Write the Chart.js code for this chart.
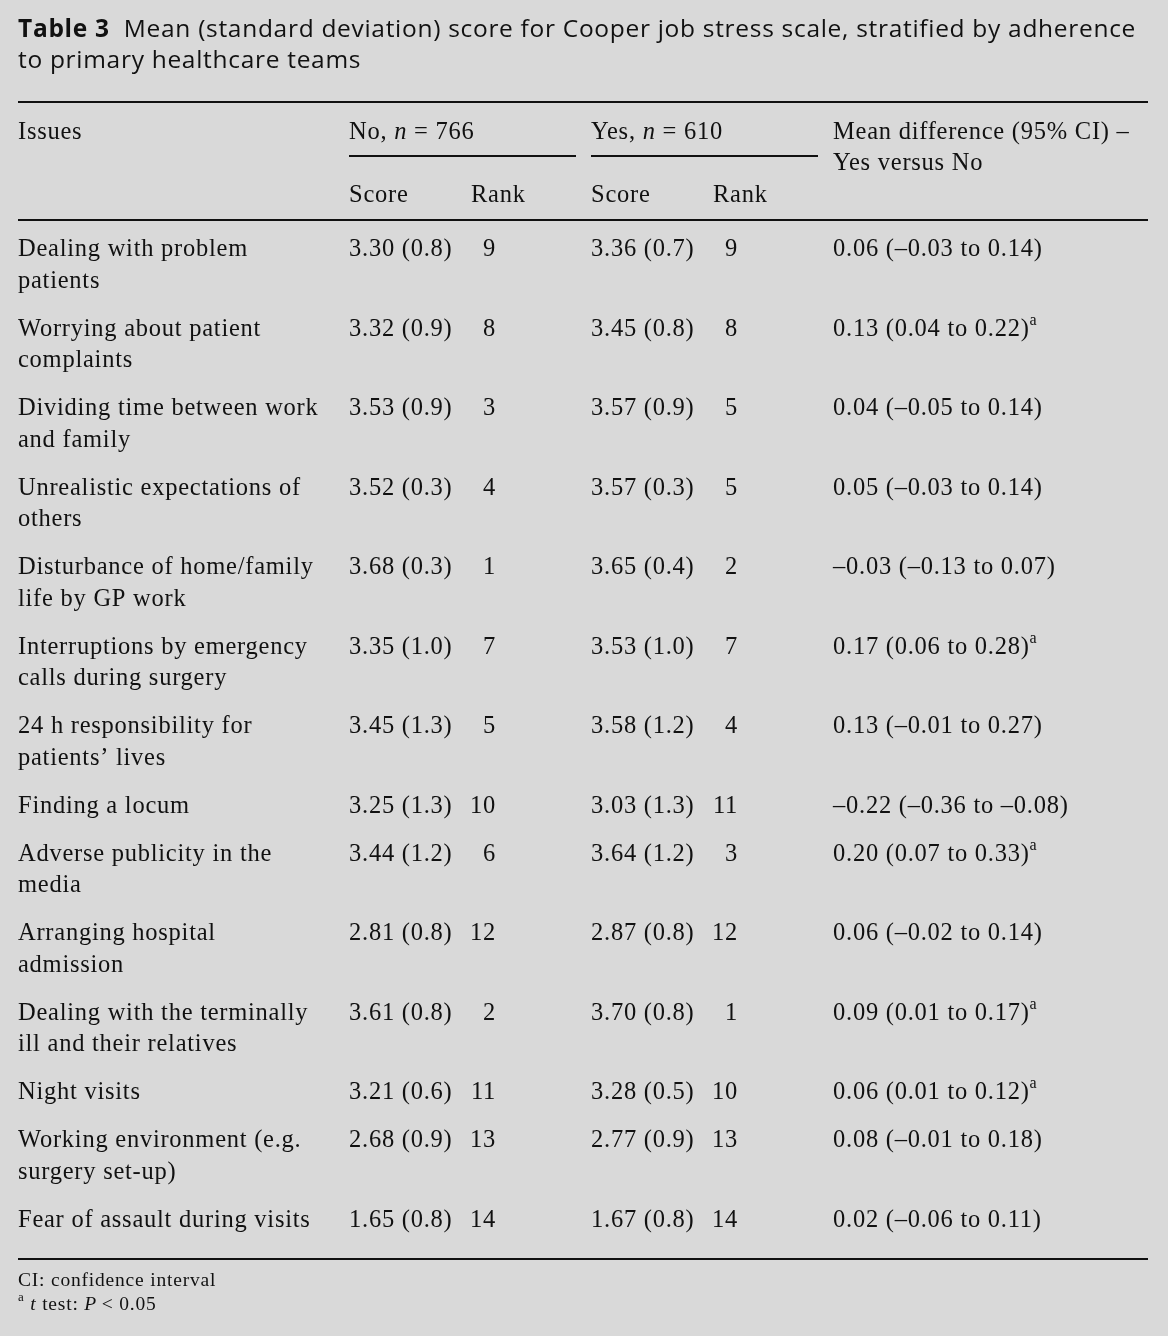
<!DOCTYPE html>
<html>
<head>
<meta charset="utf-8">
<script src="https://cdn.jsdelivr.net/npm/chart.js@4.4.1/dist/chart.umd.min.js"></script>
<style>
  html, body { margin: 0; padding: 0; background: #d9d9d9; }
  #wrap { width: 1168px; height: 1336px; position: relative; }
</style>
</head>
<body>
<div id="wrap"><canvas id="table3"></canvas></div>
<script>
const issues = [
  ["Dealing with problem", "patients"],
  ["Worrying about patient", "complaints"],
  ["Dividing time between work", "and family"],
  ["Unrealistic expectations of", "others"],
  ["Disturbance of home/family", "life by GP work"],
  ["Interruptions by emergency", "calls during surgery"],
  ["24 h responsibility for", "patients\u2019 lives"],
  ["Finding a locum"],
  ["Adverse publicity in the", "media"],
  ["Arranging hospital", "admission"],
  ["Dealing with the terminally", "ill and their relatives"],
  ["Night visits"],
  ["Working environment (e.g.", "surgery set-up)"],
  ["Fear of assault during visits"]
];
const noScore = [3.30, 3.32, 3.53, 3.52, 3.68, 3.35, 3.45, 3.25, 3.44, 2.81, 3.61, 3.21, 2.68, 1.65];
const noSd = [0.8, 0.9, 0.9, 0.3, 0.3, 1.0, 1.3, 1.3, 1.2, 0.8, 0.8, 0.6, 0.9, 0.8];
const noRank = [9, 8, 3, 4, 1, 7, 5, 10, 6, 12, 2, 11, 13, 14];
const yesScore = [3.36, 3.45, 3.57, 3.57, 3.65, 3.53, 3.58, 3.03, 3.64, 2.87, 3.70, 3.28, 2.77, 1.67];
const yesSd = [0.7, 0.8, 0.9, 0.3, 0.4, 1.0, 1.2, 1.3, 1.2, 0.8, 0.8, 0.5, 0.9, 0.8];
const yesRank = [9, 8, 5, 5, 2, 7, 4, 11, 3, 12, 1, 10, 13, 14];
const meanDiff = [0.06, 0.13, 0.04, 0.05, -0.03, 0.17, 0.13, -0.22, 0.20, 0.06, 0.09, 0.06, 0.08, 0.02];
const ciLow = [-0.03, 0.04, -0.05, -0.03, -0.13, 0.06, -0.01, -0.36, 0.07, -0.02, 0.01, 0.01, -0.01, -0.06];
const ciHigh = [0.14, 0.22, 0.14, 0.14, 0.07, 0.28, 0.27, -0.08, 0.33, 0.14, 0.17, 0.12, 0.18, 0.11];
const significant = [false, true, false, false, false, true, false, false, true, false, true, true, false, false];

const nNo = 766;
const nYes = 610;
const titleLabel = "Table 3";
const titleText = ["Mean (standard deviation) score for Cooper job stress scale, stratified by adherence",
                   "to primary healthcare teams"];

// ---- layout ----
const W = 1168, H = 1336;
const X = { left: 18, right: 1148, noScore: 349, noRank: 496, noEnd: 576,
            yesScore: 591, yesRank: 738, yesEnd: 818, diff: 833 };
const firstRow = 250, lineH = 31.5, rowGap = 16.5;
const SERIF = '"Liberation Serif", "Times New Roman", serif';
const SANS = '"Open Sans", "Noto Sans", sans-serif';
const INK = "#111";

const fmt = (v, d) => (v < 0 ? "\u2013" : "") + Math.abs(v).toFixed(d);

let yy = firstRow;
const rowY = issues.map(lines => { const r = yy; yy += lines.length * lineH + rowGap; return r; });

// each cell: array of lines, each line an array of text runs
const col = (x, align, cells) => ({
  data: rowY.map(y => ({ x, y })),
  cells, align, pointRadius: 0, showLine: false
});
const datasets = [
  col(X.left, "left", issues.map(ls => ls.map(t => [{ t }]))),
  col(X.noScore, "left", noScore.map((v, i) => [[{ t: fmt(v, 2) + " (" + fmt(noSd[i], 1) + ")" }]])),
  col(X.noRank, "right", noRank.map(v => [[{ t: String(v) }]])),
  col(X.yesScore, "left", yesScore.map((v, i) => [[{ t: fmt(v, 2) + " (" + fmt(yesSd[i], 1) + ")" }]])),
  col(X.yesRank, "right", yesRank.map(v => [[{ t: String(v) }]])),
  col(X.diff, "left", meanDiff.map((v, i) => {
    const run = [{ t: fmt(v, 2) + " (" + fmt(ciLow[i], 2) + " to " + fmt(ciHigh[i], 2) + ")" }];
    if (significant[i]) run.push({ t: "a", sup: true });
    return [run];
  }))
];

function fontFor(run, size) {
  const s = run.sup ? Math.round(size * 0.66) : size;
  return (run.italic ? "italic " : "") + (run.bold ? "bold " : "") + s + "px " + (run.sans ? SANS : SERIF);
}

function drawRuns(ctx, runs, x, y, align, size, spacing) {
  ctx.letterSpacing = (spacing || 0) + "px";
  let total = 0;
  runs.forEach(r => { ctx.font = fontFor(r, size); total += ctx.measureText(r.t).width; });
  let cx = align === "right" ? x - total : x;
  runs.forEach(r => {
    ctx.font = fontFor(r, size);
    ctx.fillText(r.t, cx, r.sup ? y - size * 0.36 : y);
    cx += ctx.measureText(r.t).width;
  });
  ctx.letterSpacing = "0px";
}

const tablePlugin = {
  id: "tableText",
  beforeDraw(chart) {
    const ctx = chart.ctx;
    ctx.save();
    ctx.fillStyle = "#d9d9d9";
    ctx.fillRect(0, 0, chart.width, chart.height);
    ctx.restore();
  },
  afterDatasetsDraw(chart) {
    const ctx = chart.ctx;
    const sx = v => chart.scales.x.getPixelForValue(v);
    const sy = v => chart.scales.y.getPixelForValue(v);
    ctx.save();
    ctx.fillStyle = INK;
    ctx.strokeStyle = INK;
    ctx.textBaseline = "middle";
    ctx.textAlign = "left";

    // caption
    drawRuns(ctx, [{ t: titleLabel + "  ", sans: true, bold: true }, { t: titleText[0], sans: true }], sx(X.left), sy(30), "left", 24.5, 0.7);
    drawRuns(ctx, [{ t: titleText[1], sans: true }], sx(X.left), sy(61), "left", 24.5, 0.7);

    // rules
    const rule = (x1, x2, y) => {
      ctx.lineWidth = 2;
      ctx.beginPath(); ctx.moveTo(sx(x1), sy(y)); ctx.lineTo(sx(x2), sy(y)); ctx.stroke();
    };
    rule(X.left, X.right, 102);
    rule(X.noScore, X.noEnd, 156);
    rule(X.yesScore, X.yesEnd, 156);
    rule(X.left, X.right, 220);
    rule(X.left, X.right, 1259);

    // header
    const hs = 24.5, ls = 0.75;
    drawRuns(ctx, [{ t: "Issues" }], sx(X.left), sy(133), "left", hs, ls);
    drawRuns(ctx, [{ t: "No, " }, { t: "n", italic: true }, { t: " = " + nNo }], sx(X.noScore), sy(133), "left", hs, ls);
    drawRuns(ctx, [{ t: "Yes, " }, { t: "n", italic: true }, { t: " = " + nYes }], sx(X.yesScore), sy(133), "left", hs, ls);
    drawRuns(ctx, [{ t: "Mean difference (95% CI) \u2013" }], sx(X.diff), sy(133), "left", hs, ls);
    drawRuns(ctx, [{ t: "Yes versus No" }], sx(X.diff), sy(164), "left", hs, ls);
    drawRuns(ctx, [{ t: "Score" }], sx(X.noScore), sy(196), "left", hs, ls);
    drawRuns(ctx, [{ t: "Rank" }], sx(471), sy(196), "left", hs, ls);
    drawRuns(ctx, [{ t: "Score" }], sx(X.yesScore), sy(196), "left", hs, ls);
    drawRuns(ctx, [{ t: "Rank" }], sx(713), sy(196), "left", hs, ls);

    // body cells, anchored on the dataset points
    chart.data.datasets.forEach((ds, di) => {
      chart.getDatasetMeta(di).data.forEach((pt, j) => {
        ds.cells[j].forEach((line, k) => {
          drawRuns(ctx, line, pt.x, pt.y + k * lineH, ds.align, hs, ls);
        });
      });
    });

    // footnotes
    drawRuns(ctx, [{ t: "CI: confidence interval" }], sx(X.left), sy(1281), "left", 19.5, 0.8);
    drawRuns(ctx, [{ t: "a", sup: true }, { t: " " }, { t: "t", italic: true }, { t: " test: " },
                   { t: "P", italic: true }, { t: "\u2009< 0.05" }], sx(X.left), sy(1305), "left", 19.5, 0.8);
    ctx.restore();
  }
};

new Chart(document.getElementById("table3"), {
  type: "scatter",
  data: { datasets },
  options: {
    responsive: true,
    maintainAspectRatio: false,
    animation: false,
    layout: { padding: 0 },
    scales: {
      x: { type: "linear", min: 0, max: W, display: false },
      y: { type: "linear", min: 0, max: H, reverse: true, display: false }
    },
    plugins: { legend: { display: false }, tooltip: { enabled: false } },
    events: []
  },
  plugins: [tablePlugin]
});
</script>
</body>
</html>
